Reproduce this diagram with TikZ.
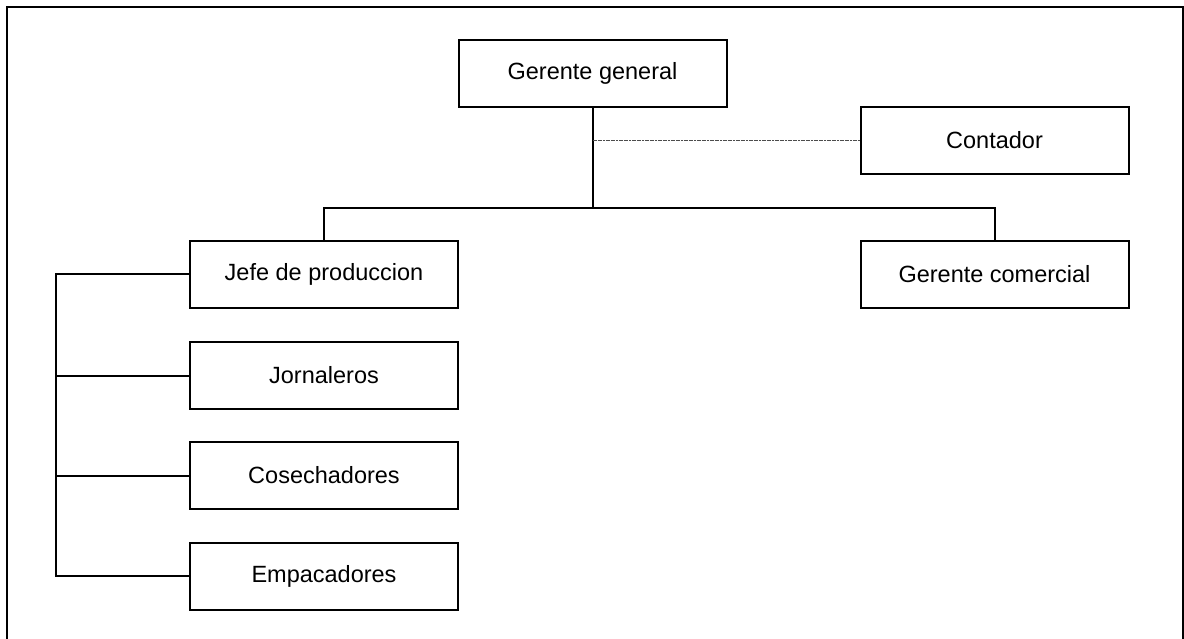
\documentclass[tikz,border=0pt]{standalone}
\usepackage{fontspec}
\setmainfont{Liberation Sans}
\begin{document}
\begin{tikzpicture}[x=1pt,y=-1pt,
  orgbox/.style={draw,line width=2pt,minimum width=268pt,minimum height=67pt,inner sep=0pt,
    font=\fontsize{23.5}{28}\selectfont,fill=white},
  conn/.style={line width=2pt},
  staff/.style={line width=1.6pt,draw=gray!60!black,dash pattern=on 2pt off 0.6pt}]
\useasboundingbox (0,0) rectangle (1184,639);
\begin{scope}
\clip (0,0) rectangle (1184,639);
\draw[line width=2.5pt] (7,700) -- (7,7) -- (1183,7) -- (1183,700);
\end{scope}
\node[orgbox] (gg) at (592.5,73.5) {Gerente general};
\node[orgbox] (co) at (994.5,140.5) {Contador};
\node[orgbox] (jp) at (324,274.5) {Jefe de produccion};
\node[orgbox] (gc) at (994.5,274.5) {Gerente comercial};
\node[orgbox] (jo) at (324,375.5) {Jornaleros};
\node[orgbox] (cs) at (324,475.5) {Cosechadores};
\node[orgbox] (em) at (324,576) {Empacadores};
\coordinate (bus) at (592.5,208);
\coordinate (dj) at (gg.south |- co.west);
\coordinate (lb) at (56,400);
\draw[conn] (gg.south) -- (bus);
\draw[conn] (jp.north) |- (bus) -| (gc.north);
\draw[staff] (dj) -- (co.west);
\draw[conn] (jp.west) -| (lb) |- (em.west);
\draw[conn] (jo.west) -- (jo.west -| lb);
\draw[conn] (cs.west) -- (cs.west -| lb);
\end{tikzpicture}
\end{document}
